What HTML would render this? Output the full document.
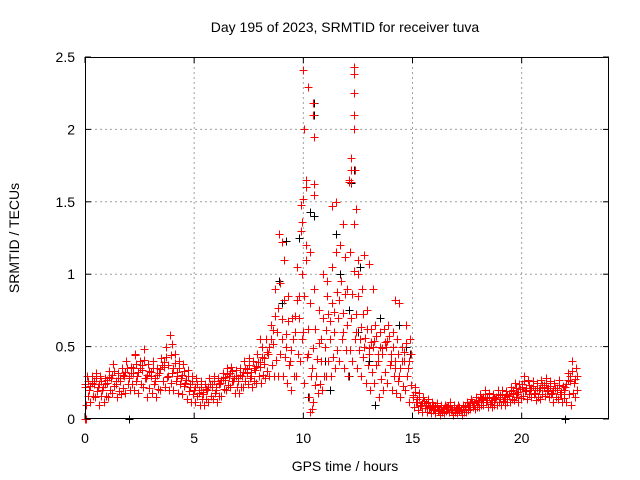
<!DOCTYPE html>
<html><head><meta charset="utf-8"><style>
html,body{margin:0;padding:0;background:#fff;}
svg{display:block;font-family:"Liberation Sans",sans-serif;}
</style></head><body>
<svg id="chart" width="640" height="480" viewBox="0 0 640 480">
<rect x="0" y="0" width="640" height="480" fill="#fff"/>
<g id="grid"></g>
<g id="black"></g>
<g id="red"></g>
<g id="axes"></g>
<text x="345" y="32" font-size="14" text-anchor="middle">Day 195 of 2023, SRMTID for receiver tuva</text>
<text x="345" y="471" font-size="14" text-anchor="middle">GPS time / hours</text>
<text x="19" y="238" font-size="14" text-anchor="middle" transform="rotate(-90 19 238)">SRMTID / TECUs</text>
</svg>
<script>
const xTicks=[0,5,10,15,20];
const yTicks=[0,0.5,1,1.5,2,2.5];
const yTickLabels=["0","0.5","1","1.5","2","2.5"];
const tStart=0, tStep=0.2;
const midVals=[.22,.2,.24,.22,.2, .25,.28,.24,.26,.3, .28,.32,.3,.34,.28, .3,.26,.32,.36,.3, .32,.3,.28,.25,.22, .2,.18,.17,.2,.22, .2,.25,.27,.3,.26, .26,.3,.32,.3,.34, .36,.38,.45,.52,.6, .55,.5,.4,.6,.7, .6,.45,.35,.3,.4, .5,.55,.6,.7,.6, .65,.7,.6,.55,.5, .45,.5,.4,.45,.5, .4,.35,.3,.4,.35, .15,.12,.1,.1,.08, .07,.06,.07,.08,.06, .07,.06,.08,.1,.1, .12,.14,.13,.12,.14, .15,.14,.16,.18,.17, .22,.2,.2,.18,.2, .22,.2,.18,.2,.17, .22,.26,.25];
const hiVals=[.3,.3,.32,.3,.28, .33,.38,.32,.35,.4, .36,.44,.4,.48,.38, .4,.35,.42,.5,.58, .45,.4,.38,.34,.3, .28,.26,.24,.28,.3, .28,.32,.35,.36,.34, .35,.4,.42,.4,.45, .5,.55,.65,.9,1.28, 1.1,.85,.7,1.05,1.3, 1.6,1.15,.9,.75,1.0, .95,1.05,1.15,1.2,1.12, 1.65,1.35,1.1,.9,.75, .62,.65,.6,.62,.65, .6,.55,.5,.65,.55, .22,.18,.15,.14,.12, .11,.1,.1,.12,.1, .1,.1,.12,.14,.15, .17,.2,.18,.17,.2, .2,.19,.22,.25,.24, .3,.27,.26,.25,.27, .28,.26,.25,.27,.23, .32,.4,.35];
const loVals=[.1,.12,.15,.1,.12, .15,.18,.15,.17,.18, .2,.2,.18,.22,.15, .18,.15,.2,.22,.2, .2,.18,.17,.14,.12, .12,.1,.1,.12,.14, .12,.16,.2,.22,.18, .18,.22,.24,.22,.25, .25,.28,.3,.3,.3, .3,.25,.2,.3,.4, .25,.15,.12,.18,.2, .3,.3,.35,.4,.35, .3,.4,.35,.3,.25, .2,.25,.15,.2,.25, .2,.18,.15,.2,.12, .08,.06,.05,.05,.04, .04,.03,.04,.05,.03, .04,.03,.05,.07,.07, .08,.1,.08,.08,.1, .1,.1,.12,.13,.12, .16,.14,.15,.13,.14, .16,.15,.12,.14,.12, .12,.1,.15];
const spikeT=[10.0,10.05,10.2,10.45,10.45,10.5,10.1,10.0,10.5,10.5,12.3,12.3,12.3,12.3,12.3,12.2,12.2,12.1,12.2,12.35,12.4,11.3,11.5,11.8,9.9,9.95,8.9,9.0,9.9,10.1,12.8,13.0,12.5,14.4,14.2,13.2,11.1,10.4,10.3,8.0,3.9,4.0,2.3,0,0.05];
const spikeV=[2.41,2.0,2.29,2.18,2.1,1.95,1.65,1.52,1.62,1.55,2.43,2.38,2.25,2.1,2.0,1.8,1.72,1.64,1.64,1.72,1.45,1.47,1.5,1.35,1.48,1.36,1.28,1.22,1.3,1.2,1.13,1.07,1.0,0.8,0.82,0.9,0.85,0.07,0.05,0.55,0.58,0.52,0.45,0.0,0.0];
const blackT=[10.5,10.5,12.3,12.2,10.3,10.5,9.2,9.8,11.5,11.7,12.6,12.5,13.0,13.3,10.2,11.2,9.0,8.9,12.1,14.7,14.9,2.0,22.0,12.1,11.0,13.5,14.4,0.0];
const blackV=[2.18,2.1,1.72,1.63,1.43,1.4,1.23,1.25,1.28,1.0,1.05,0.6,0.4,0.1,0.15,0.2,0.8,0.95,0.75,0.5,0.45,0.0,0.0,0.3,0.4,0.7,0.65,0.0];

const L=85,R=609,T=57,B=419,XMAX=24,YMAX=2.5;
const xs=v=>L+v/XMAX*(R-L);
const ys=v=>B-v/YMAX*(B-T);
const NS="http://www.w3.org/2000/svg";
function mk(tag,attrs,parent){const e=document.createElementNS(NS,tag);for(const k in attrs)e.setAttribute(k,attrs[k]);parent.appendChild(e);return e;}

const grid=document.getElementById('grid'), axes=document.getElementById('axes');
xTicks.forEach((t,i)=>{
  const x=xs(t);
  if(t>0){const g=mk('line',{x1:x,y1:T,x2:x,y2:B,stroke:'#a0a0a0','stroke-dasharray':'2,3','stroke-width':1},grid);
  
  }
  mk('line',{x1:x,y1:B,x2:x,y2:B-6,stroke:'#000'},axes);
  mk('line',{x1:x,y1:T,x2:x,y2:T+6,stroke:'#000'},axes);
  const lb=mk('text',{x:x,y:B+24,'font-size':14,'text-anchor':'middle'},axes);
  lb.textContent=String(t);
  
  
});
yTicks.forEach((v,i)=>{
  const y=ys(v);
  if(v>0&&v<YMAX){const g=mk('line',{x1:L,y1:y,x2:R,y2:y,stroke:'#a0a0a0','stroke-dasharray':'2,3','stroke-width':1},grid);
  
  }
  mk('line',{x1:L,y1:y,x2:L+6,y2:y,stroke:'#000'},axes);
  mk('line',{x1:R,y1:y,x2:R-6,y2:y,stroke:'#000'},axes);
  const lb=mk('text',{x:L-10,y:y+5,'font-size':14,'text-anchor':'end'},axes);
  lb.textContent=yTickLabels[i];
  
  
});
const fr=mk('rect',{x:L+0.5,y:T+0.5,width:R-L-1,height:B-T-1,fill:'none',stroke:'#000','stroke-width':1},axes);



function cross(g,t,v,color){
  const x=Math.round(xs(t))+0.5,y=Math.round(ys(v))+0.5;
  const p=mk('path',{d:`M${x-4},${y}H${x+4}M${x},${y-4}V${y+4}`,stroke:color,'stroke-width':1,fill:'none'},g);
  
  
}
const red=document.getElementById('red'), blk=document.getElementById('black');
blackT.forEach((t,i)=>cross(blk,t,blackV[i],'#000'));
for(let i=0;i<midVals.length;i++){
  const t=tStart+i*tStep;
  cross(red,t,midVals[i],'#f00');
  cross(red,t+0.1,hiVals[i],'#f00');
  cross(red,t+0.05,loVals[i],'#f00');
  cross(red,t+0.15,(midVals[i]+loVals[i])/2,'#f00');
  cross(red,t+0.12,(midVals[i]+hiVals[i])/2,'#f00');
  cross(red,t+0.02,(3*midVals[i]+hiVals[i])/4,'#f00');
}
spikeT.forEach((t,i)=>cross(red,t,spikeV[i],'#f00'));
</script>
</body></html>
